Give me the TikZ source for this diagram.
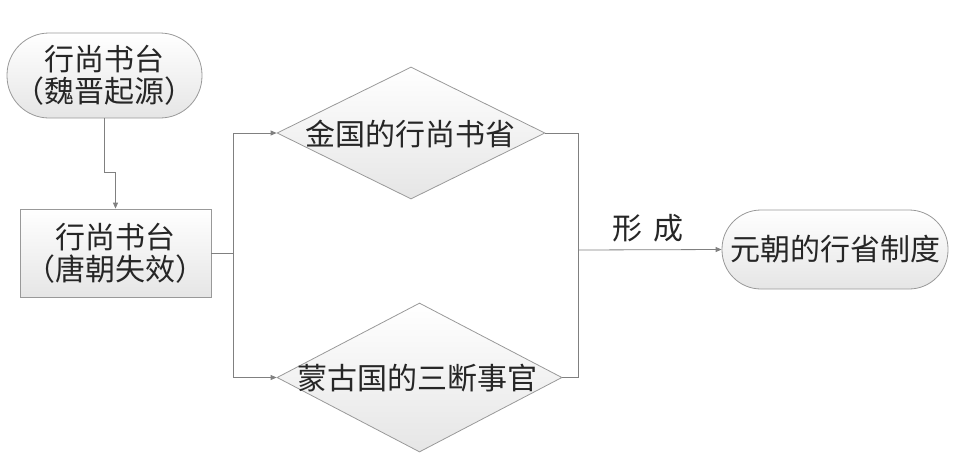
\documentclass[tikz,border=0pt]{standalone}
\usepackage{fontspec}
\setmainfont{Noto Sans CJK SC}
\usetikzlibrary{arrows.meta,shapes.geometric}
\begin{document}
\begin{tikzpicture}[x=1pt,y=-1pt,
  every node/.style={text=black!85},
  txt/.style={font=\fontsize{30}{32}\selectfont, align=center},
  termbox/.style={draw=black!40, line width=0.8pt, top color=white, bottom color=black!10,
     rectangle, inner sep=0pt, txt},
  procbox/.style={draw=black!40, line width=0.8pt, top color=white, bottom color=black!10,
     rectangle, inner sep=0pt, txt, minimum width=191pt, minimum height=88pt},
  decbox/.style={draw=black!40, line width=0.8pt, top color=white, bottom color=black!10,
     diamond, inner sep=0pt},
  conn/.style={draw=black!50, line width=0.8pt},
  arr/.style={conn, -{Triangle[length=6pt,width=5pt]}}
]
\useasboundingbox (0,0) rectangle (960,459);

\node[termbox, minimum width=195pt, minimum height=85pt, rounded corners=42pt] (t1) at (104.5,75.5)
  {行尚书台\\（魏晋起源）};
\node[procbox] (b1) at (115.5,253) {行尚书台\\（唐朝失效）};

\node[decbox, minimum width=268pt, minimum height=132pt] (d1) at (411,133) {};
\node[txt] (l1) at (410,134) {金国的行尚书省};
\node[decbox, minimum width=285pt, minimum height=149pt] (d2) at (419.5,377.5) {};
\node[txt] (l2) at (417,378) {蒙古国的三断事官};

\node[termbox, minimum width=226pt, minimum height=79pt, rounded corners=39pt] (t2) at (835,249.5)
  {元朝的行省制度};

\node[txt] (lab) at (648,228) {形\hspace{0.4em}成};

\coordinate (s) at (233,253);
\coordinate (j) at (578,250);

\draw[arr] (t1.south) -- ++(0,54) -| (b1.north);
\draw[conn] (b1.east) -- (s);
\draw[arr] (s) |- (d1.west);
\draw[arr] (s) |- (d2.west);
\draw[conn] (d1.east) -| (j);
\draw[conn] (d2.east) -| (j);
\draw[arr] (j) -- (t2.west);
\end{tikzpicture}
\end{document}
